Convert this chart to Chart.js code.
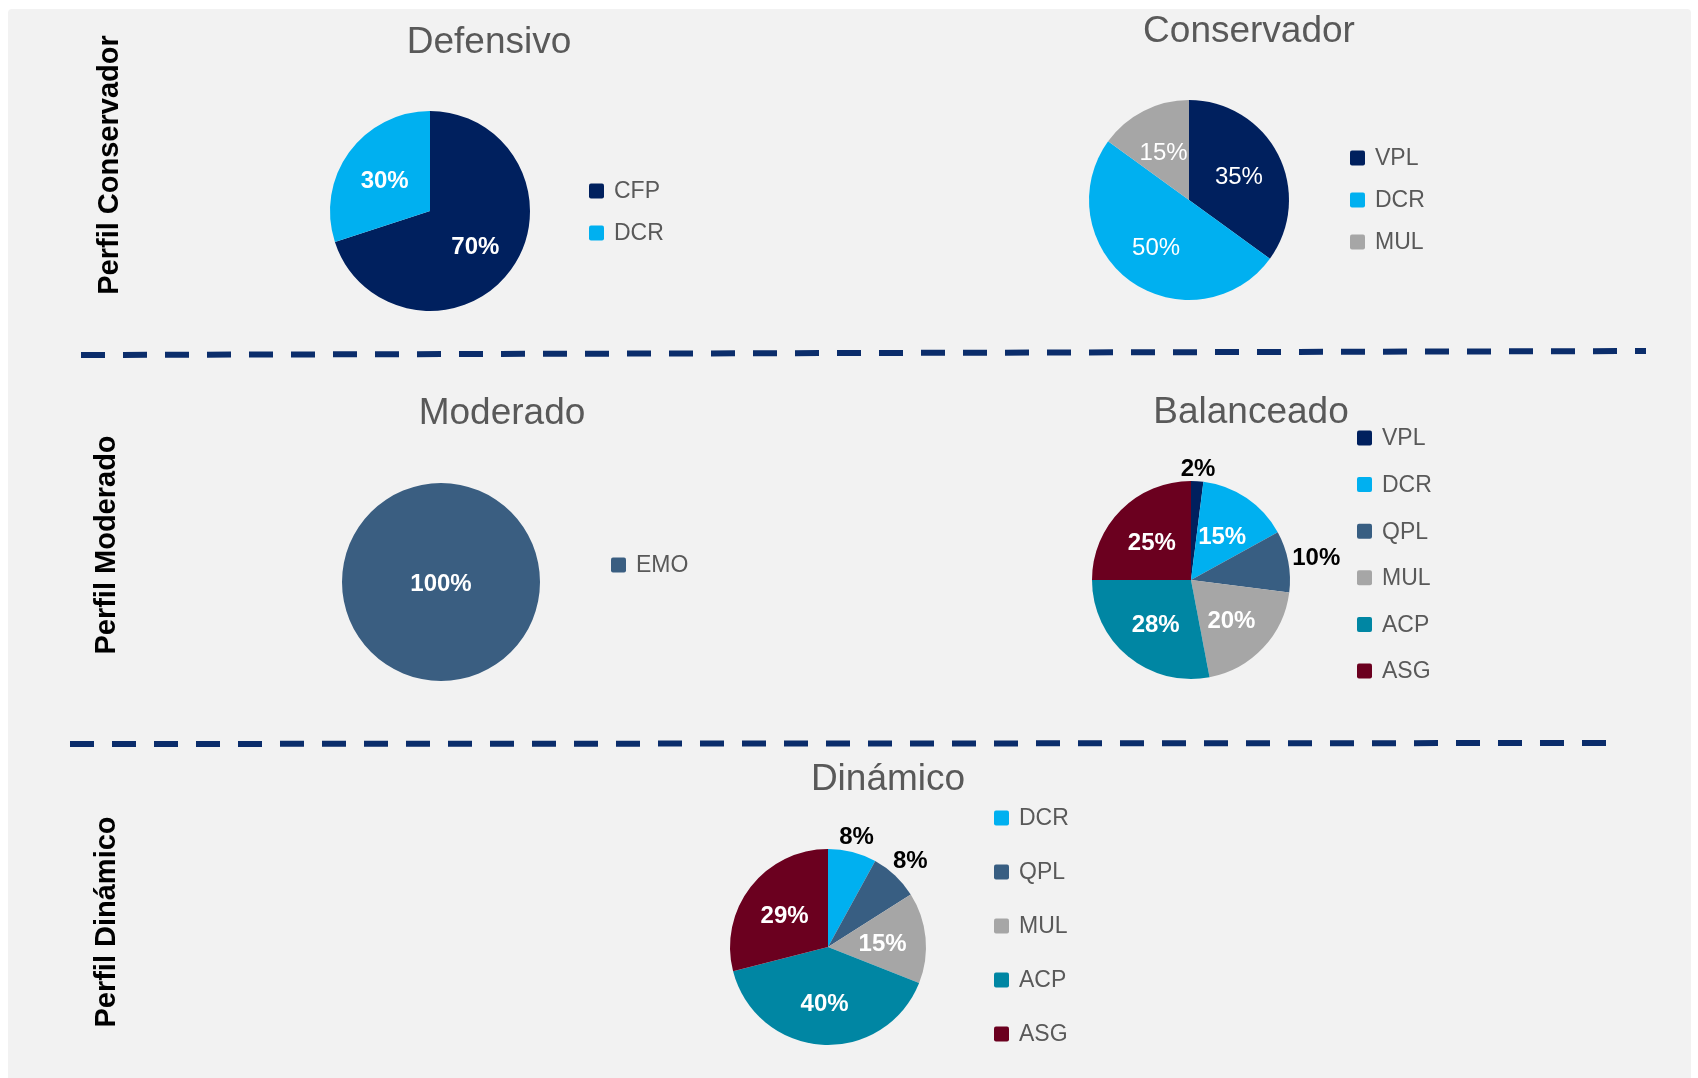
<!DOCTYPE html>
<html>
<head>
<meta charset="utf-8">
<script src="https://cdn.jsdelivr.net/npm/chart.js@4.4.1/dist/chart.umd.min.js"></script>
<style>
    body { margin: 0; width: 1698px; height: 1078px; background: #ffffff; position: relative; overflow: hidden; }
    #panel { position: absolute; left: 8px; top: 9px; width: 1683px; height: 1069px; background: #f2f2f2; border-radius: 4px 4px 0 0; }
    canvas { position: absolute; left: 0; top: 0; }
</style>
</head>
<body>
<div id="panel"></div>
<canvas id="defensivo"></canvas>
<canvas id="conservador"></canvas>
<canvas id="moderado"></canvas>
<canvas id="balanceado"></canvas>
<canvas id="dinamico"></canvas>
<script>
    const W = 1698, H = 1078;
    const FONT = '"Liberation Sans", Arial, sans-serif';

    // data
    const defensivoLabels = ['CFP', 'DCR'];
    const defensivoValues = [70, 30];
    const conservadorLabels = ['VPL', 'DCR', 'MUL'];
    const conservadorValues = [35, 50, 15];
    const moderadoLabels = ['EMO'];
    const moderadoValues = [100];
    const balanceadoLabels = ['VPL', 'DCR', 'QPL', 'MUL', 'ACP', 'ASG'];
    const balanceadoValues = [2, 15, 10, 20, 28, 25];
    const dinamicoLabels = ['DCR', 'QPL', 'MUL', 'ACP', 'ASG'];
    const dinamicoValues = [8, 8, 15, 40, 29];
    const rowLabels = ['Perfil Conservador', 'Perfil Moderado', 'Perfil Dinámico'];

    const fundColors = {
        'CFP': '#00205e',
        'VPL': '#00205e',
        'DCR': '#00b0f0',
        'QPL': '#385e82',
        'EMO': '#3a5e81',
        'MUL': '#a6a6a6',
        'ACP': '#0086a3',
        'ASG': '#6b001f',
    };

    // dashed separators + vertical row titles, drawn once on the first chart
    const pageDecor = {
        id: 'pageDecor',
        afterDraw(chart) {
            const ctx = chart.ctx;
            ctx.save();
            ctx.strokeStyle = '#0b2d6b';
            ctx.lineWidth = 6;
            ctx.setLineDash([24, 18]);
            ctx.beginPath();
            ctx.moveTo(81, 355); ctx.lineTo(1646, 351);
            ctx.moveTo(70, 744); ctx.lineTo(1608, 743);
            ctx.stroke();
            ctx.setLineDash([]);

            const rowPos = [[110, 165], [107, 545], [107, 922]];
            ctx.fillStyle = '#000000';
            ctx.font = 'bold 29px ' + FONT;
            ctx.textAlign = 'center';
            ctx.textBaseline = 'middle';
            rowLabels.forEach((txt, i) => {
                ctx.save();
                ctx.translate(rowPos[i][0], rowPos[i][1]);
                ctx.rotate(-Math.PI / 2);
                ctx.fillText(txt, 0, 0);
                ctx.restore();
            });
            ctx.restore();
        }
    };

    // title, legend and percentage labels for one pie
    const pieDecor = {
        id: 'pieDecor',
        afterDatasetsDraw(chart, args, opts) {
            const ctx = chart.ctx;
            const values = chart.data.datasets[0].data;
            const labels = chart.data.labels;
            const colors = chart.data.datasets[0].backgroundColor;
            const meta = chart.getDatasetMeta(0);
            ctx.save();
            ctx.textAlign = 'center';
            ctx.textBaseline = 'middle';

            // % labels
            ctx.font = (opts.bold ? 'bold ' : '') + '24px ' + FONT;
            meta.data.forEach((arc, i) => {
                const v = values[i];
                const txt = v + '%';
                const p = arc.getProps(['x', 'y', 'startAngle', 'endAngle', 'outerRadius'], true);
                const mid = (p.startAngle + p.endAngle) / 2;
                const dx = Math.cos(mid), dy = Math.sin(mid);
                let x, y;
                if (v >= 100) {
                    x = p.x; y = p.y + 2;
                    ctx.fillStyle = '#ffffff';
                } else if (v <= 10) {
                    const hw = ctx.measureText(txt).width / 2;
                    const d = p.outerRadius + 3 + Math.abs(dx) * hw + Math.abs(dy) * 10;
                    x = p.x + dx * d; y = p.y + dy * d + 2;
                    ctx.fillStyle = '#000000';
                } else {
                    const d = p.outerRadius * 0.56;
                    x = p.x + dx * d; y = p.y + dy * d + 3;
                    ctx.fillStyle = opts.labelColor || '#ffffff';
                }
                ctx.fillText(txt, x, y);
            });

            // title
            ctx.fillStyle = '#595959';
            ctx.font = '37px ' + FONT;
            ctx.fillText(opts.title, opts.titleX, opts.titleY);

            // legend
            ctx.font = '23px ' + FONT;
            ctx.textAlign = 'left';
            labels.forEach((lab, i) => {
                const y = opts.legendY + i * opts.legendStep;
                ctx.fillStyle = colors[i];
                ctx.beginPath();
                ctx.roundRect(opts.legendX, y - 7.5, 15, 15, 2);
                ctx.fill();
                ctx.fillStyle = '#595959';
                ctx.fillText(lab, opts.legendX + 25, y + 1);
            });
            ctx.restore();
        }
    };

    function makePie(id, labels, values, cx, cy, r, decor, extraPlugins) {
        const canvas = document.getElementById(id);
        canvas.width = W;
        canvas.height = H;
        return new Chart(canvas.getContext('2d'), {
            type: 'pie',
            data: {
                labels: labels,
                datasets: [{
                    data: values,
                    backgroundColor: labels.map(l => fundColors[l]),
                    borderWidth: 0,
                }],
            },
            options: {
                responsive: false,
                animation: false,
                events: [],
                layout: {
                    padding: { left: cx - r, top: cy - r, right: W - cx - r, bottom: H - cy - r },
                },
                plugins: {
                    legend: { display: false },
                    tooltip: { enabled: false },
                    pieDecor: decor,
                },
            },
            plugins: [pieDecor].concat(extraPlugins || []),
        });
    }

    makePie('defensivo', defensivoLabels, defensivoValues, 430, 211, 100, {
        title: 'Defensivo', titleX: 489, titleY: 43, bold: true,
        legendX: 589, legendY: 191, legendStep: 42,
    }, [pageDecor]);

    makePie('conservador', conservadorLabels, conservadorValues, 1189, 200, 100, {
        title: 'Conservador', titleX: 1249, titleY: 32, bold: false,
        legendX: 1350, legendY: 158, legendStep: 42,
    });

    makePie('moderado', moderadoLabels, moderadoValues, 441, 582, 99, {
        title: 'Moderado', titleX: 502, titleY: 414, bold: true,
        legendX: 611, legendY: 565, legendStep: 42,
    });

    makePie('balanceado', balanceadoLabels, balanceadoValues, 1191, 580, 99, {
        title: 'Balanceado', titleX: 1251, titleY: 413, bold: true,
        legendX: 1357, legendY: 438, legendStep: 46.6,
    });

    makePie('dinamico', dinamicoLabels, dinamicoValues, 828, 947, 98, {
        title: 'Dinámico', titleX: 888, titleY: 780, bold: true,
        legendX: 994, legendY: 818, legendStep: 54,
    });
</script>
</body>
</html>
